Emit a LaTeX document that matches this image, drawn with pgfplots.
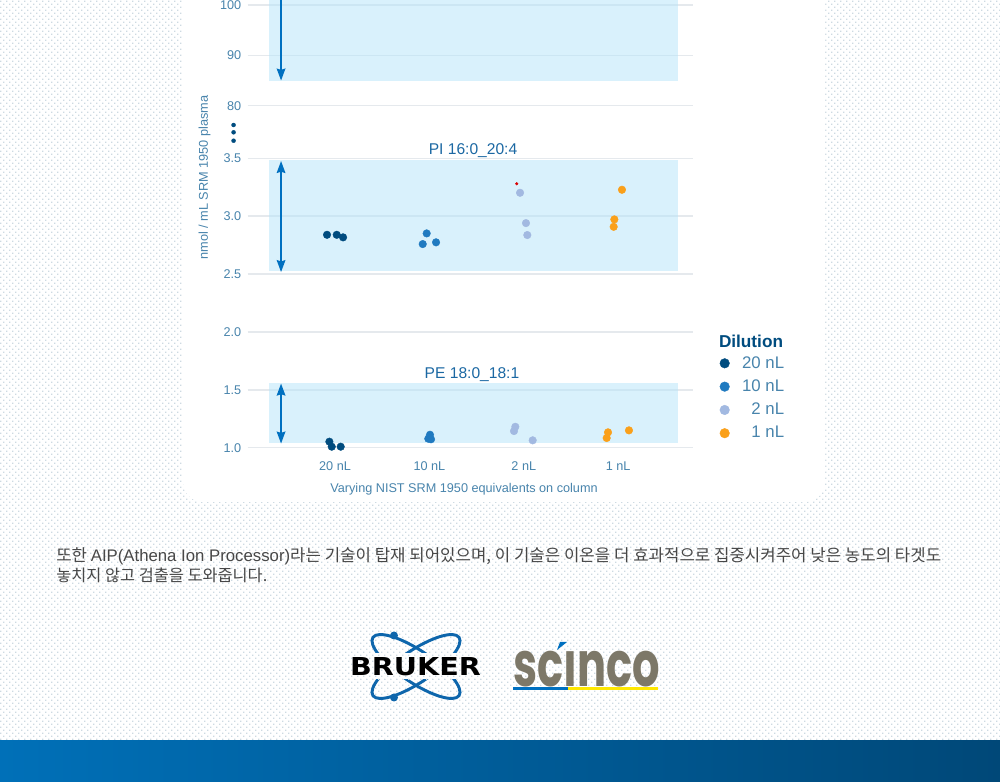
\documentclass[border=0pt]{standalone}
\usepackage{fontspec}
\usepackage{pgfplots}
\pgfplotsset{compat=1.18}
\usetikzlibrary{patterns,arrows.meta}
\setmainfont{Liberation Sans}
\newfontfamily\krfont{Noto Sans CJK KR}
\newfontfamily\popfont{Poppins}
\newfontfamily\dvfont{DejaVu Sans}
\definecolor{tickc}{RGB}{72,132,172}
\definecolor{gridc}{RGB}{229,233,237}
\definecolor{bandc}{RGB}{181,228,250}
\definecolor{arrowc}{RGB}{0,112,192}
\definecolor{c20}{RGB}{0,76,127}
\definecolor{c10}{RGB}{32,122,192}
\definecolor{c2}{RGB}{162,185,225}
\definecolor{c1}{RGB}{250,160,26}
\definecolor{dotc}{RGB}{205,218,226}
\pgfdeclarepatternformonly{bgdots}{\pgfqpoint{-1pt}{-1pt}}{\pgfqpoint{4pt}{4.5pt}}{\pgfqpoint{4.5pt}{4.5pt}}{%
  \pgfpathrectangle{\pgfqpoint{0pt}{0pt}}{\pgfqpoint{1.1pt}{1.1pt}}%
  \pgfpathrectangle{\pgfqpoint{2.25pt}{2.25pt}}{\pgfqpoint{1.1pt}{1.1pt}}%
  \pgfusepath{fill}}
\pgfplotsset{
  common/.style={
    scale only axis, width=334.2pt,
    xmin=-0.925, xmax=3.796,
    axis line style={draw=none},
    major tick length=0pt,
    ymajorgrids, grid style={gridc,line width=1.05pt},
    clip=false,
    tick label style={font=\fontsize{9.5}{10}\selectfont,color=tickc},
    yticklabel style={xshift=-1.3pt},
    /pgf/number format/assume math mode=true,
  },
  band/.style={draw=none,fill=bandc,fill opacity=0.5,forget plot},
  arr/.style={arrowc,line width=1.2pt,forget plot},
  pts/.style={only marks,mark=*,mark size=2.85pt,color=#1,mark options={draw=#1,fill=#1,line width=0.3pt}},
}
\begin{document}
\begin{tikzpicture}[x=0.75pt,y=0.75pt]
\clip (0,0) rectangle (1000,782);
% page background
\fill[white] (0,0) rectangle (1000,782);
\fill[pattern=bgdots,pattern color=dotc] (0,0) rectangle (1000,782);
% card
\fill[white,rounded corners=15pt] (183,280) rectangle (825,850);
% footer band
\shade[left color={rgb,255:red,0;green,112;blue,184},right color={rgb,255:red,0;green,72;blue,120}] (0,0) rectangle (1000,41.7);

% upper axis
\begin{axis}[common, at={(185.8pt,507.2pt)}, anchor=south west, height=79.3pt,
  ymin=80, ymax=101, ytick={80,90,100}, xtick=\empty]
\addplot[band] coordinates {(-0.702,85)(3.637,85)(3.637,101)(-0.702,101)} -- cycle;
\addplot[arr,-{Stealth[length=9pt,width=6.5pt,inset=1pt]}] coordinates {(-0.572,101)(-0.572,85)};
\addplot[only marks,mark=*,mark size=1.5pt,color=c20,mark options={draw=c20,fill=c20,line width=0.3pt},forget plot]
  coordinates {(-1.075,76.17)(-1.075,74.72)(-1.075,73.05)};
\end{axis}

% lower axis
\begin{axis}[common, at={(185.8pt,250.7pt)}, anchor=south west, height=217.1pt,
  ymin=1, ymax=3.5, ytick={1,1.5,2,2.5,3,3.5},
  yticklabel style={/pgf/number format/fixed,/pgf/number format/fixed zerofill,/pgf/number format/precision=1},
  xtick={0,1,2,3}, xticklabels={20 nL,10 nL,2 nL,1 nL},
  xticklabel style={yshift=-6.7pt},
  xlabel={Varying NIST SRM 1950 equivalents on column},
  xlabel style={font=\fontsize{9.5}{10}\selectfont,color=tickc,xshift=-4.9pt,yshift=-2.6pt},
  legend cell align=right,
  legend style={draw=none,fill=none,at={(1.05,0.0)},anchor=south west,yshift=1.6pt,
    font=\fontsize{12.6}{13}\selectfont\color{tickc},row sep=3.2pt,
    /tikz/every odd column/.append style={column sep=7.5pt}},
  legend image post style={mark size=3.6pt},
]
\addplot[band] coordinates {(-0.702,2.526)(3.637,2.526)(3.637,3.484)(-0.702,3.484)} -- cycle;
\addplot[band] coordinates {(-0.702,1.041)(3.637,1.041)(3.637,1.556)(-0.702,1.556)} -- cycle;
\addplot[arr,{Stealth[length=9pt,width=6.5pt,inset=1pt]}-{Stealth[length=9pt,width=6.5pt,inset=1pt]}] coordinates {(-0.572,3.476)(-0.572,2.517)};
\addplot[arr,{Stealth[length=9pt,width=6.5pt,inset=1pt]}-{Stealth[length=9pt,width=6.5pt,inset=1pt]}] coordinates {(-0.572,1.554)(-0.572,1.036)};
\addplot[pts=c20] coordinates {(-0.085,2.839)(0.018,2.839)(0.085,2.817)(-0.060,1.052)(-0.035,1.009)(0.060,1.009)};
\addplot[pts=c10] coordinates {(0.971,2.851)(0.929,2.759)(1.070,2.774)(1.006,1.112)(0.988,1.078)(1.017,1.073)};
\addplot[pts=c2] coordinates {(1.960,3.202)(2.023,2.940)(2.037,2.837)(1.910,1.181)(1.896,1.144)(2.094,1.064)};
\addplot[pts=c1] coordinates {(3.040,3.228)(2.959,2.972)(2.952,2.908)(2.892,1.133)(2.878,1.084)(3.114,1.150)};
\addplot[only marks,mark=*,mark size=1pt,color=red!85!black,mark options={draw=red!85!black,fill=red!85!black,line width=0.3pt},forget plot] coordinates {(1.925,3.280)};
\legend{20 nL,10 nL,2 nL,1 nL}
\end{axis}

% texts
\node[font=\fontsize{11.7}{13}\selectfont,color=c10!85!black] at (473,631) {PI 16:0\_20:4};
\node[font=\fontsize{11.7}{13}\selectfont,color=c10!85!black] at (472,407) {PE 18:0\_18:1};
\node[rotate=90,font=\fontsize{9.55}{10}\selectfont,color=tickc] at (204.5,604.5) {nmol / mL SRM 1950 plasma};
\node[font=\fontsize{12.9}{13}\selectfont\bfseries,color=c20] at (751,440.5) {Dilution};

% body text
\node[anchor=base west,inner sep=0pt,color=black!72] at (56,220) {\resizebox{663.7pt}{!}{\krfont\fontsize{13}{15}\selectfont 또한 {\rmfamily AIP(Athena Ion Processor)}라는 기술이 탑재 되어있으며, 이 기술은 이온을 더 효과적으로 집중시켜주어 낮은 농도의 타겟도}};
\node[anchor=base west,inner sep=0pt,color=black!72] at (56,200) {\resizebox{158.3pt}{!}{\krfont\fontsize{13}{15}\selectfont 놓치지 않고 검출을 도와줍니다.}};

% Bruker logo
\definecolor{brk}{RGB}{14,102,172}
\begin{scope}[shift={(416,115.5)}]
\draw[brk,line width=2.2pt,rotate=34] (0,0) ellipse [x radius=52,y radius=16];
\draw[brk,line width=2.2pt,rotate=-34] (0,0) ellipse [x radius=52,y radius=16];
\fill[brk] (-22,31) circle (4);
\fill[brk] (-22,-31) circle (4);
\fill[white] (-67,-13) rectangle (66,13);
\fill[pattern=bgdots,pattern color=dotc] (-67,-13) rectangle (66,13);
\node[inner sep=0pt] at (-0.5,0) {\resizebox{98pt}{13.5pt}{\dvfont\bfseries BRUKER}};
\end{scope}
% Scinco logo
\definecolor{sci}{RGB}{125,120,104}
\node[inner sep=0pt,anchor=south west,color=sci] at (513,94.5) {\resizebox{110pt}{26.5pt}{\popfont\bfseries scınco}};
\fill[arrowc] (560,140) -- (567,140) -- (557,132) -- cycle;
\fill[arrowc] (513,91.5) rectangle (568,94.5);
\fill[yellow!90!orange] (568,91.5) rectangle (658,94.5);
\end{tikzpicture}
\end{document}
